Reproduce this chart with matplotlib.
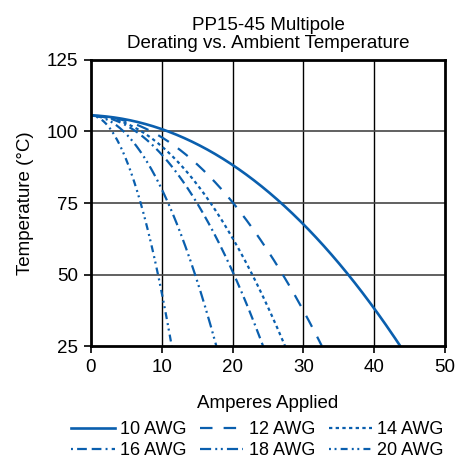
import matplotlib
matplotlib.use("Agg")
import matplotlib.pyplot as plt
import numpy as np

plt.rcParams['font.family'] = ['Liberation Sans', 'DejaVu Sans']
plt.rcParams['lines.scale_dashes'] = False

# Data
x10 = [0, 5, 10, 15, 20, 25, 30, 35, 40, 43.6]
y10 = [105.5, 104.4, 101, 95.5, 88, 79, 67.5, 54, 38.5, 25]
x12 = [0, 5, 10, 15, 20, 25, 30, 32.6]
y12 = [105.5, 103.6, 98, 88.5, 75.2, 58.2, 37.4, 25]
x14 = [0, 5, 10, 15, 20, 25, 27.4]
y14 = [105.5, 102.8, 94.8, 81.4, 62.7, 38.6, 25]
x16 = [0, 5, 10, 15, 20, 24.3]
y16 = [105.5, 102.1, 91.9, 74.9, 51.0, 25]
x18 = [0, 3, 6, 9, 12, 15, 17.7]
y18 = [105.5, 103.2, 96.2, 84.7, 68.5, 47.7, 25]
x20 = [0, 2, 4, 6, 8, 10, 11.4]
y20 = [105.5, 103, 95.6, 83.2, 65.8, 43.5, 25]

labels = ["10 AWG", "12 AWG", "14 AWG", "16 AWG", "18 AWG", "20 AWG"]
xticks = [0, 10, 20, 30, 40, 50]
yticks = [25, 50, 75, 100, 125]

color = '#0a5fae'
styles = [
    '-',
    (0, (9, 8)),
    (0, (2.4, 2.4)),
    (0, (1.4, 3, 7, 3.5, 7, 3)),
    (0, (8, 3, 1.4, 2.6, 1.4, 3)),
    (0, (1.4, 2.6, 1.4, 3, 5, 3)),
]
widths = [1.9, 1.6, 1.6, 1.6, 1.6, 1.6]

fig = plt.figure(figsize=(4.56, 4.61), dpi=100)
ax = fig.add_axes([91/456, 1 - 346/461, (445 - 91)/456, (346 - 60)/461])

series = [(x10, y10), (x12, y12), (x14, y14), (x16, y16), (x18, y18), (x20, y20)]
for (xs, ys), lab, ls, lw in zip(series, labels, styles, widths):
    xs = np.array(xs, float); ys = np.array(ys, float)
    xx = np.linspace(xs[0], xs[-1], 200)
    coeff = np.polyfit(xs, ys, 3)
    ax.plot(xx, np.polyval(coeff, xx), color=color, lw=lw, linestyle=ls, label=lab)

ax.set_xlim(0, 50)
ax.set_ylim(25, 125)
ax.set_xticks(xticks)
ax.set_yticks(yticks)
for v in xticks[1:-1]:
    ax.axvline(v, color='black', lw=1.0, zorder=0)
for v in yticks[1:-1]:
    ax.axhline(v, color='#454545', lw=1.2, zorder=0)
for s in ax.spines.values():
    s.set_linewidth(2)
    s.set_color('black')
ax.tick_params(direction='out', length=5, width=1.2, labelsize=13.5, pad=4)

ax.set_xlabel("Amperes Applied", fontsize=13.5, va='top')
ax.xaxis.set_label_coords(0.5, -0.172)
ax.set_ylabel("Temperature (°C)", fontsize=13.5)
ax.yaxis.set_label_coords(-0.161, 0.5)
ax.set_title("PP15-45 Multipole\nDerating vs. Ambient Temperature", fontsize=13.5, pad=9, linespacing=1.07)

handles, labs = ax.get_legend_handles_labels()
order = [0, 3, 1, 4, 2, 5]
leg = fig.legend([handles[i] for i in order], [labs[i] for i in order],
                 loc='upper center', bbox_to_anchor=(0.565, 1 - 421/461), ncol=3, frameon=False,
                 fontsize=13, handlelength=2.4, handletextpad=0.3, columnspacing=0.75,
                 labelspacing=0.22, borderpad=0, borderaxespad=0)

fig.savefig("out.png", dpi=100)
